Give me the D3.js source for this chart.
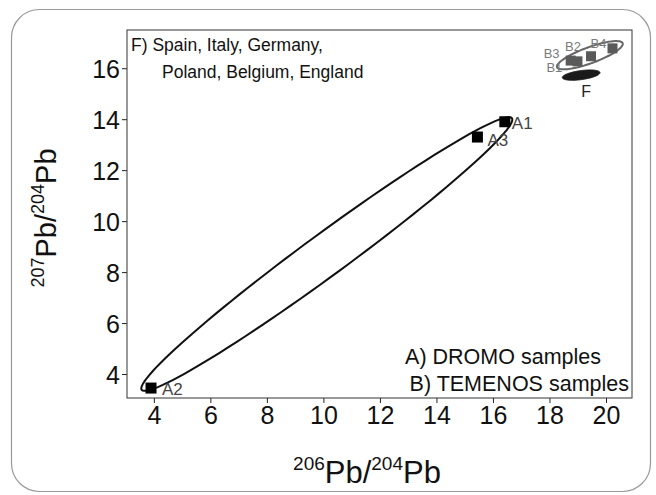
<!DOCTYPE html>
<html>
<head>
<meta charset="utf-8">
<script src="https://cdn.jsdelivr.net/npm/d3@7"></script>
<style>
  body { margin: 0; background: #fff; }
  text { font-family: "Liberation Sans", Arial, sans-serif; }
</style>
</head>
<body>
<div id="chart"></div>
<script>
// samples (206Pb/204Pb , 207Pb/204Pb)
var dromoNames = ["A1", "A2", "A3"];
var dromoX = [16.42, 3.9, 15.45];
var dromoY = [13.9, 3.45, 13.3];

var temenosNames = ["B3", "B1", "B2", "B4"];
var temenosX = [18.75, 18.99, 19.47, 20.23];
var temenosY = [16.3, 16.27, 16.47, 16.78];

// ellipses: center, major half-axis vector, minor half-axis vector (data units)
var ellipseA = {cx: 10.12, cy: 8.71, ux: 6.55, uy: 5.33, vx: 0.44, vy: -0.66};
var ellipseB = {cx: 19.43, cy: 16.51, ux: 1.16, uy: 0.47, vx: 0.097, vy: -0.295};
var ellipseF = {cx: 19.12, cy: 15.73, ux: 0.666, uy: 0.1, vx: 0.02, vy: -0.175};

var xTicks = [4, 6, 8, 10, 12, 14, 16, 18, 20];
var yTicks = [4, 6, 8, 10, 12, 14, 16];

var W = 656, H = 495;
var margin = {left: 127, top: 30, right: 24, bottom: 97};
var width = W - margin.left - margin.right,
    height = H - margin.top - margin.bottom;

var svg = d3.select("#chart").append("svg")
    .attr("width", W)
    .attr("height", H);

// outer rounded frame
svg.append("rect")
    .attr("x", 11.5).attr("y", 9.5)
    .attr("width", 639).attr("height", 482)
    .attr("rx", 28).attr("ry", 28)
    .attr("fill", "none")
    .attr("stroke", "#999")
    .attr("stroke-width", 1.2);

var g = svg.append("g")
    .attr("transform", "translate(" + margin.left + "," + margin.top + ")");

var x = d3.scaleLinear().domain([3.05, 20.92]).range([0, width]);
var y = d3.scaleLinear().domain([3.06, 17.5]).range([height, 0]);

function ellipsePts(e) {
  var pts = [];
  for (var i = 0; i <= 120; i++) {
    var t = i / 120 * 2 * Math.PI;
    pts.push([e.cx + Math.cos(t) * e.ux + Math.sin(t) * e.vx,
              e.cy + Math.cos(t) * e.uy + Math.sin(t) * e.vy]);
  }
  return pts;
}
var line = d3.line()
    .x(d => x(d[0]))
    .y(d => y(d[1]))
    .curve(d3.curveLinearClosed);

// axes
var xAxis = g.append("g")
    .attr("transform", `translate(0,${height})`)
    .call(d3.axisBottom(x).tickValues(xTicks).tickSize(5).tickSizeOuter(0).tickPadding(1));
var yAxis = g.append("g")
    .call(d3.axisLeft(y).tickValues(yTicks).tickSize(5).tickSizeOuter(0).tickPadding(2));
[xAxis, yAxis].forEach(function(a) {
  a.select(".domain").remove();
  a.selectAll("line").attr("stroke", "#222");
  a.selectAll("text")
    .attr("fill", "#111")
    .style("font-size", "25px")
    .style("font-family", "'Liberation Sans', Arial, sans-serif");
});
xAxis.selectAll("text").attr("dy", "0.8em");
yAxis.selectAll("text").attr("dy", "0.36em");

// plot frame
g.append("rect")
    .attr("width", width).attr("height", height)
    .attr("fill", "none")
    .attr("stroke", "#333")
    .attr("stroke-width", 1);

// ellipse for DROMO samples
g.append("path")
    .attr("d", line(ellipsePts(ellipseA)))
    .attr("fill", "none")
    .attr("stroke", "#111")
    .attr("stroke-width", 2);

// F field
g.append("path")
    .attr("d", line(ellipsePts(ellipseF)))
    .attr("fill", "#1a1a1a")
    .attr("stroke", "#1a1a1a");

// TEMENOS
g.append("path")
    .attr("d", line(ellipsePts(ellipseB)))
    .attr("fill", "none")
    .attr("stroke", "#666")
    .attr("stroke-width", 2);

var temenos = temenosNames.map((n, i) => ({name: n, x: temenosX[i], y: temenosY[i]}));
g.selectAll(".bsq").data(temenos).enter()
  .append("rect")
    .attr("class", "bsq")
    .attr("x", d => x(d.x) - 5)
    .attr("y", d => y(d.y) - 5)
    .attr("width", 10).attr("height", 10)
    .attr("fill", "#5a5a5a");

var bLabelDx = [-27, -31, -26, -22], bLabelDy = [-3, 11, -5, 0];
g.selectAll(".blab").data(temenos).enter()
  .append("text")
    .attr("class", "blab")
    .attr("x", (d, i) => x(d.x) + bLabelDx[i])
    .attr("y", (d, i) => y(d.y) + bLabelDy[i])
    .attr("fill", "#7a7a7a")
    .style("font-size", "13px")
    .text(d => d.name);

g.append("text")
    .attr("x", x(ellipseF.cx) + 5)
    .attr("y", y(ellipseF.cy) + 22)
    .attr("text-anchor", "middle")
    .attr("fill", "#222")
    .style("font-size", "16px")
    .text("F");

// DROMO squares
var dromo = dromoNames.map((n, i) => ({name: n, x: dromoX[i], y: dromoY[i]}));
g.selectAll(".asq").data(dromo).enter()
  .append("rect")
    .attr("class", "asq")
    .attr("x", d => x(d.x) - 5.5)
    .attr("y", d => y(d.y) - 5.5)
    .attr("width", 11).attr("height", 11)
    .attr("fill", "#000");

var aLabelDx = [7, 11, 10], aLabelDy = [7, 7, 9];
g.selectAll(".alab").data(dromo).enter()
  .append("text")
    .attr("class", "alab")
    .attr("x", (d, i) => x(d.x) + aLabelDx[i])
    .attr("y", (d, i) => y(d.y) + aLabelDy[i])
    .attr("fill", "#444")
    .style("font-size", "17px")
    .text(d => d.name);

// annotations
g.append("text")
    .attr("x", 4).attr("y", 21)
    .attr("fill", "#111")
    .style("font-size", "17.5px")
    .text("F) Spain, Italy, Germany,");
g.append("text")
    .attr("x", 35).attr("y", 48)
    .attr("fill", "#111")
    .style("font-size", "17.5px")
    .text("Poland, Belgium, England");

g.append("text")
    .attr("x", width - 31).attr("y", 334)
    .attr("text-anchor", "end")
    .attr("fill", "#111")
    .style("font-size", "21.5px")
    .text("A) DROMO samples");
g.append("text")
    .attr("x", width - 3).attr("y", 361)
    .attr("text-anchor", "end")
    .attr("fill", "#111")
    .style("font-size", "21.5px")
    .text("B) TEMENOS samples");

// axis titles
var xt = svg.append("text")
    .attr("x", 367).attr("y", 483)
    .attr("text-anchor", "middle")
    .attr("fill", "#111")
    .style("font-size", "31px");
xt.append("tspan").style("font-size", "19px").attr("dy", -13).text("206");
xt.append("tspan").attr("dy", 13).text("Pb/");
xt.append("tspan").style("font-size", "19px").attr("dy", -13).text("204");
xt.append("tspan").attr("dy", 13).text("Pb");

var yt = svg.append("text")
    .attr("transform", "translate(56,218) rotate(-90)")
    .attr("text-anchor", "middle")
    .attr("fill", "#111")
    .style("font-size", "29px");
yt.append("tspan").style("font-size", "18px").attr("dy", -12).text("207");
yt.append("tspan").attr("dy", 12).text("Pb/");
yt.append("tspan").style("font-size", "18px").attr("dy", -12).text("204");
yt.append("tspan").attr("dy", 12).text("Pb");
</script>
</body>
</html>
